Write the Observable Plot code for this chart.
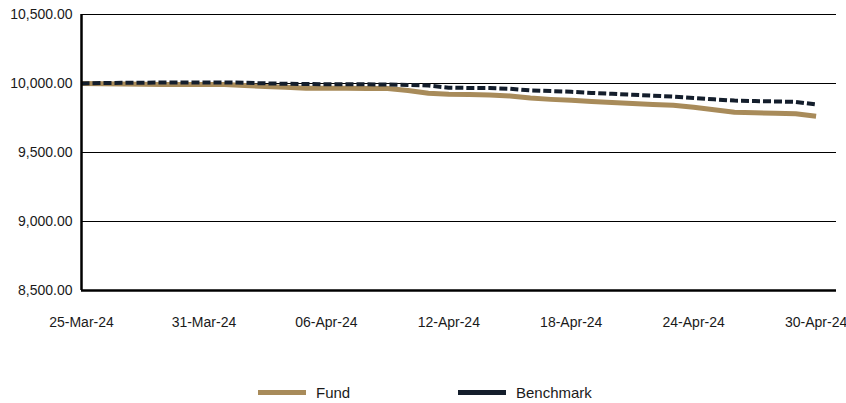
<!DOCTYPE html>
<html>
<head>
<meta charset="utf-8">
<script src="https://cdn.jsdelivr.net/npm/d3@7"></script>
<script src="https://cdn.jsdelivr.net/npm/@observablehq/plot@0.6"></script>
<style>
  html, body { margin: 0; padding: 0; background: #fff; }
  #wrap { position: relative; width: 846px; height: 403px; font-family: "Liberation Sans", Arial, sans-serif; }
  #legend { position: absolute; left: 0; top: 381px; width: 846px; height: 22px; }
  .item { position: absolute; top: 0; height: 22px; display: flex; align-items: center; font-size: 15px; color: #1a1a1a; }
  .sw { width: 48px; height: 5px; margin-right: 10px; }
</style>
</head>
<body>
<div id="wrap"><div id="chart"></div><div id="legend"></div></div>
<script>
const dates = [
  "2024-03-25","2024-03-26","2024-03-27","2024-03-28","2024-03-29","2024-03-30","2024-03-31",
  "2024-04-01","2024-04-02","2024-04-03","2024-04-04","2024-04-05","2024-04-06","2024-04-07",
  "2024-04-08","2024-04-09","2024-04-10","2024-04-11","2024-04-12","2024-04-13","2024-04-14",
  "2024-04-15","2024-04-16","2024-04-17","2024-04-18","2024-04-19","2024-04-20","2024-04-21",
  "2024-04-22","2024-04-23","2024-04-24","2024-04-25","2024-04-26","2024-04-27","2024-04-28",
  "2024-04-29","2024-04-30"
];
const fund = [
  10000, 9998, 9996, 9994, 9992, 9992, 9993, 9993, 9985, 9978, 9972, 9966, 9965, 9965,
  9964, 9963, 9950, 9930, 9922, 9920, 9917, 9910, 9895, 9885, 9878, 9870, 9862, 9855,
  9848, 9842, 9828, 9810, 9792, 9788, 9785, 9781, 9762
];
const benchmark = [
  10000, 10003, 10005, 10006, 10007, 10008, 10008, 10008, 10005, 10001, 9998, 9996, 9995, 9995,
  9994, 9993, 9990, 9985, 9970, 9968, 9967, 9962, 9950, 9945, 9940, 9932, 9925, 9918,
  9912, 9905, 9895, 9885, 9876, 9873, 9870, 9867, 9848
];
const xDomainEnd = "2024-05-01";
const yTicks = [8500, 9000, 9500, 10000, 10500];
const xTickLabels = ["2024-03-25","2024-03-31","2024-04-06","2024-04-12","2024-04-18","2024-04-24","2024-04-30"];
const seriesNames = ["Fund", "Benchmark"];
const seriesColors = ["#A88B5A", "#141E2C"];

const parse = d3.utcParse("%Y-%m-%d");
const fundData = dates.map((d, i) => ({date: parse(d), value: fund[i]}));
const benchData = dates.map((d, i) => ({date: parse(d), value: benchmark[i]}));
const xTicks = xTickLabels.map(parse);

const chart = Plot.plot({
  width: 846,
  height: 350,
  marginTop: 14,
  marginBottom: 60,
  marginLeft: 81,
  marginRight: 10,
  style: {fontFamily: "Liberation Sans, Arial, sans-serif", fontSize: "14px", color: "#1a1a1a", background: "#fff"},
  x: {type: "utc", domain: [parse(dates[0]), parse(xDomainEnd)]},
  y: {domain: [8500, 10500]},
  marks: [
    Plot.ruleY(yTicks.slice(1), {stroke: "#000", strokeWidth: 1.2, strokeOpacity: 1}),
    Plot.axisY({ticks: yTicks, tickSize: 0, tickPadding: 9, tickFormat: d3.format(",.2f"), label: null, fontSize: 14}),
    Plot.axisX({ticks: xTicks, tickSize: 0, tickPadding: 27, tickFormat: d3.utcFormat("%d-%b-%y"), label: null, fontSize: 14}),
    Plot.lineY(fundData, {x: "date", y: "value", stroke: seriesColors[0], strokeWidth: 5, strokeLinecap: "butt", curve: "linear"}),
    Plot.lineY(benchData, {x: "date", y: "value", stroke: seriesColors[1], strokeWidth: 4, strokeDasharray: "8,3", strokeLinecap: "butt"}),
    Plot.ruleY([8500], {stroke: "#000", strokeWidth: 2.5}),
    Plot.ruleX([parse(dates[0])], {stroke: "#000", strokeWidth: 2.5})
  ]
});
document.getElementById("chart").appendChild(chart);

const legend = document.getElementById("legend");
const legendX = [258, 458];
seriesNames.forEach((name, i) => {
  const item = document.createElement("div");
  item.className = "item";
  item.style.left = legendX[i] + "px";
  const sw = document.createElement("span");
  sw.className = "sw";
  sw.style.background = seriesColors[i];
  const t = document.createElement("span");
  t.textContent = name;
  item.appendChild(sw);
  item.appendChild(t);
  legend.appendChild(item);
});
</script>
</body>
</html>
